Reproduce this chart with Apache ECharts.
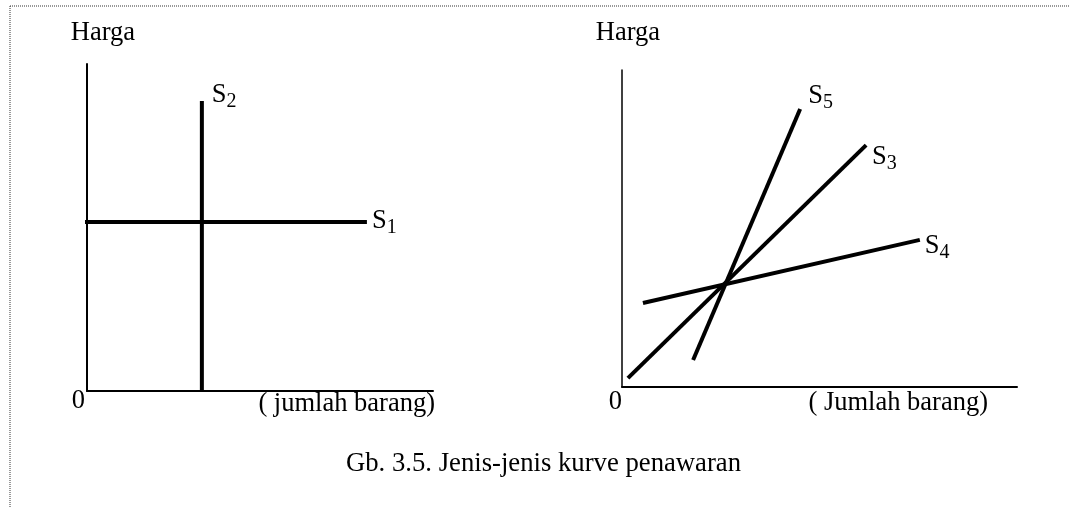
<!DOCTYPE html>
<html>
<head>
<meta charset="utf-8">
<script src="https://cdn.jsdelivr.net/npm/echarts@6.0.0/dist/echarts.min.js"></script>
<style>
  html, body { margin: 0; padding: 0; background: #fff; }
  #chart { width: 1069px; height: 508px; }
</style>
</head>
<body>
<div id="chart"></div>
<script>
// left panel: perfectly elastic (S1) and perfectly inelastic (S2)
const s1 = [[-0.12, 5.17], [8.09, 5.17]];
const s2 = [[3.32, 0], [3.32, 8.87]];
// right panel: three curves through one point
const s5 = [[1.8, 0.85], [4.51, 8.77]];
const s3 = [[0.15, 0.28], [6.18, 7.63]];
const s4 = [[0.53, 2.65], [7.54, 4.64]];

const yName = 'Harga';
const xNameLeft = '( jumlah barang)';
const xNameRight = '( Jumlah barang)';
const caption = 'Gb. 3.5. Jenis-jenis kurve penawaran';

const FONT = '"Liberation Serif", "Times New Roman", serif';
const FS = 26.5;
const chart = echarts.init(document.getElementById('chart'), null, { renderer: 'canvas' });

// subscript: pushed down with top padding
const subRich = {
    s: { fontSize: FS, fontFamily: FONT, color: '#000' },
    n: { fontSize: 20, padding: [14, 0, 0, 0], fontFamily: FONT, color: '#000' }
};

function curve(name, data, grid, idx, offset) {
    return {
        name: name,
        type: 'line',
        xAxisIndex: grid,
        yAxisIndex: grid,
        data: data,
        symbol: 'none',
        clip: false,
        lineStyle: { color: '#000', width: 4 },
        endLabel: {
            show: true,
            distance: 5,
            offset: offset,
            formatter: '{s|S}{n|' + idx + '}',
            rich: subRich
        }
    };
}

function xAxis(grid, name, nameGap, namePadTop, zeroMargin, zeroPad) {
    return {
        gridIndex: grid,
        type: 'value',
        min: 0, max: 10, interval: 10,
        axisLine: { show: true, onZero: false, lineStyle: { color: '#000', width: 2 } },
        axisTick: { show: false },
        splitLine: { show: false },
        axisLabel: {
            formatter: v => (v === 0 ? '0' : ''),
            showMaxLabel: false,
            align: 'right',
            verticalAlign: 'middle',
            margin: zeroMargin,
            padding: [0, zeroPad, 0, 0],
            fontSize: FS, fontFamily: FONT, color: '#000'
        },
        name: name,
        nameLocation: 'end',
        nameGap: nameGap,
        nameMoveOverlap: false,
        nameTextStyle: {
            align: 'right', verticalAlign: 'top',
            padding: [namePadTop, 0, 0, 0],
            fontSize: FS, fontFamily: FONT, color: '#000'
        }
    };
}

function yAxis(grid, nameGap, padLeft, width) {
    return {
        gridIndex: grid,
        type: 'value',
        min: 0, max: 10,
        axisLine: { show: true, onZero: false, lineStyle: { color: '#000', width: width } },
        axisTick: { show: false },
        splitLine: { show: false },
        axisLabel: { show: false },
        name: yName,
        nameLocation: 'end',
        nameGap: nameGap,
        nameTextStyle: {
            align: 'center', verticalAlign: 'middle',
            padding: [0, 0, 0, padLeft],
            fontSize: FS, fontFamily: FONT, color: '#000'
        }
    };
}

const option = {
    animation: false,
    backgroundColor: '#fff',
    title: {
        text: caption,
        left: 341,
        top: 445,
        textStyle: { fontSize: 26.7, fontWeight: 'normal', fontFamily: FONT, color: '#000' }
    },
    grid: [
        { left: 87, top: 64, width: 346, height: 327 },
        { left: 622, top: 70, width: 395, height: 317 }
    ],
    xAxis: [
        xAxis(0, xNameLeft, 2, 0, 10, 2),
        xAxis(1, xNameRight, -29, 3, 15, 0)
    ],
    yAxis: [
        yAxis(0, 31, 32, 2),
        yAxis(1, 37, 12, 1.5)
    ],
    graphic: [
        { type: 'line', shape: { x1: 10, y1: 6, x2: 1069, y2: 6 },
          style: { stroke: '#333', lineWidth: 1, lineDash: [1, 1] }, silent: true },
        { type: 'line', shape: { x1: 10, y1: 6, x2: 10, y2: 508 },
          style: { stroke: '#333', lineWidth: 1, lineDash: [1, 1] }, silent: true }
    ],
    series: [
        curve('S1', s1, 0, 1, [0, -1]),
        curve('S2', s2, 0, 2, [5, -6]),
        curve('S5', s5, 1, 5, [3, -13]),
        curve('S3', s3, 1, 3, [1, 12]),
        curve('S4', s4, 1, 4, [0, 6])
    ]
};

chart.setOption(option);
</script>
</body>
</html>
